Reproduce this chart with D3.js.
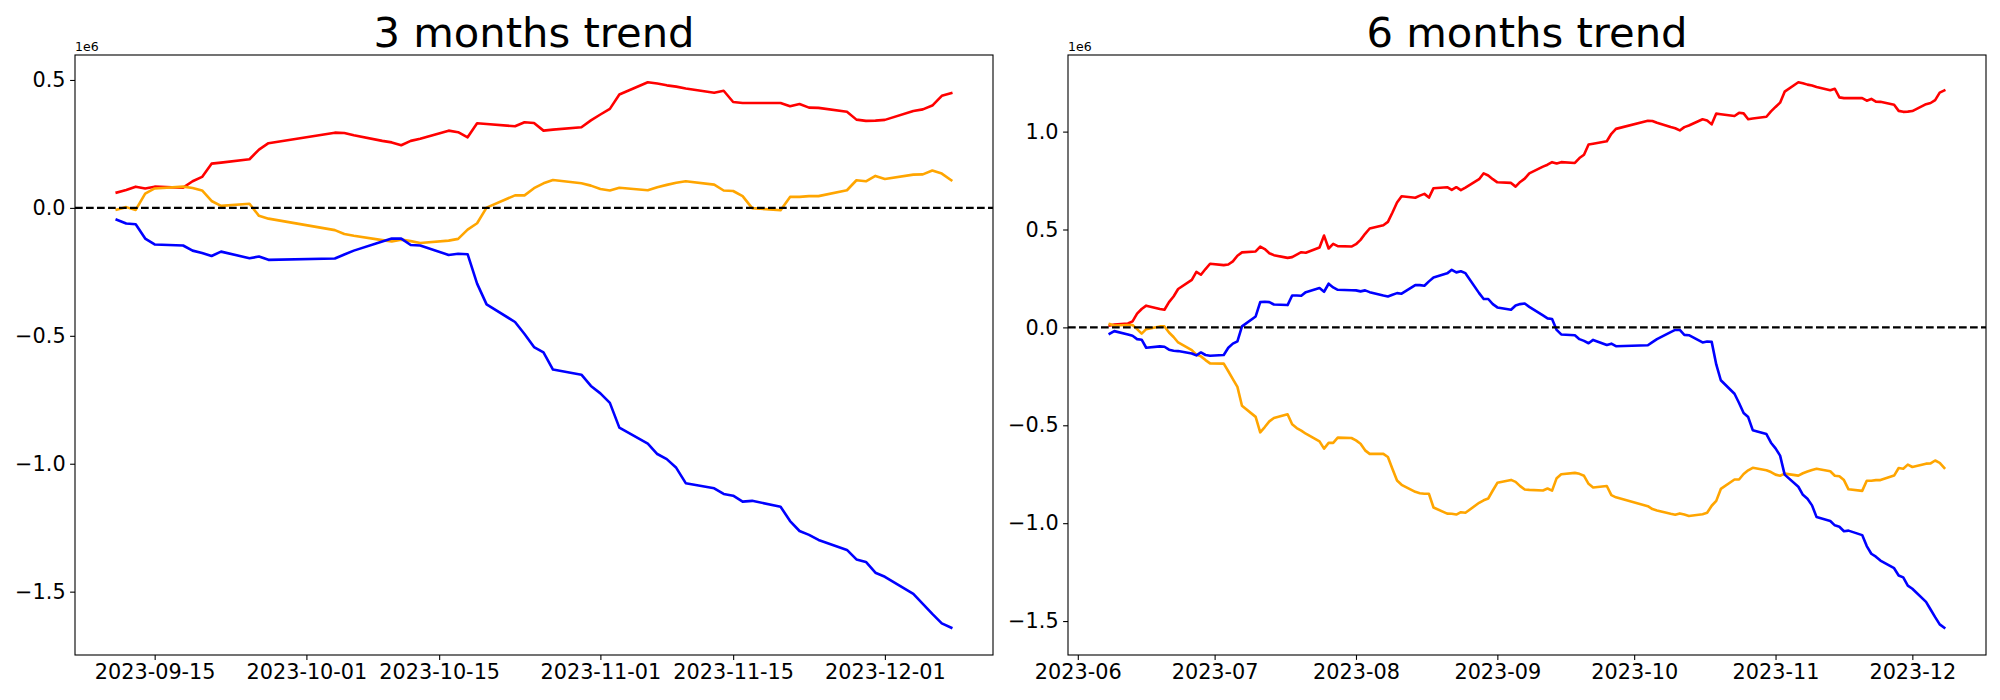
<!DOCTYPE html>
<html>
<head>
<meta charset="utf-8">
<script src="https://cdn.jsdelivr.net/npm/d3@7"></script>
<style>
    body { margin: 0; background: #ffffff; }
    text { font-family: "DejaVu Sans", sans-serif; }
</style>
</head>
<body>
<svg id="chart" width="2000" height="700"></svg>
<script>
// ---- 3 months data (values in 1e6) ----
var dates3 = [
    "2023-09-11", "2023-09-12", "2023-09-13", "2023-09-14", "2023-09-15",
    "2023-09-18", "2023-09-19", "2023-09-20", "2023-09-21", "2023-09-22",
    "2023-09-25", "2023-09-26", "2023-09-27",
    "2023-10-04", "2023-10-05", "2023-10-06",
    "2023-10-09", "2023-10-10", "2023-10-11", "2023-10-12", "2023-10-13",
    "2023-10-16", "2023-10-17", "2023-10-18", "2023-10-19", "2023-10-20",
    "2023-10-23", "2023-10-24", "2023-10-25", "2023-10-26", "2023-10-27",
    "2023-10-30", "2023-10-31", "2023-11-01", "2023-11-02", "2023-11-03",
    "2023-11-06", "2023-11-07", "2023-11-08", "2023-11-09", "2023-11-10",
    "2023-11-13", "2023-11-14", "2023-11-15", "2023-11-16", "2023-11-17",
    "2023-11-20", "2023-11-21", "2023-11-22", "2023-11-23", "2023-11-24",
    "2023-11-27", "2023-11-28", "2023-11-29", "2023-11-30", "2023-12-01",
    "2023-12-04", "2023-12-05", "2023-12-06", "2023-12-07", "2023-12-08"
];
var red3 = [
    0.060, 0.070, 0.083, 0.076, 0.083,
    0.079, 0.104, 0.121, 0.173, 0.177,
    0.190, 0.228, 0.253,
    0.294, 0.293, 0.284,
    0.262, 0.256, 0.245, 0.262, 0.270,
    0.302, 0.296, 0.276, 0.331, 0.328,
    0.319, 0.335, 0.332, 0.302, 0.306,
    0.315, 0.342, 0.365, 0.387, 0.443,
    0.491, 0.486, 0.479, 0.474, 0.467,
    0.450, 0.458, 0.414, 0.410, 0.410,
    0.410, 0.397, 0.406, 0.392, 0.391,
    0.376, 0.345, 0.340, 0.341, 0.344,
    0.379, 0.385, 0.400, 0.438, 0.449
];
var orange3 = [
    -0.007, 0.003, -0.008, 0.056, 0.076,
    0.083, 0.078, 0.068, 0.027, 0.008,
    0.016, -0.031, -0.042,
    -0.087, -0.102, -0.109,
    -0.126, -0.131, -0.124, -0.130, -0.137,
    -0.128, -0.121, -0.085, -0.060, 0.001,
    0.049, 0.049, 0.077, 0.096, 0.109,
    0.096, 0.087, 0.074, 0.068, 0.079,
    0.069, 0.081, 0.090, 0.098, 0.104,
    0.091, 0.068, 0.066, 0.046, -0.001,
    -0.009, 0.043, 0.043, 0.046, 0.046,
    0.069, 0.108, 0.104, 0.125, 0.113,
    0.130, 0.131, 0.146, 0.134, 0.108
];
var blue3 = [
    -0.046, -0.061, -0.064, -0.120, -0.143,
    -0.147, -0.167, -0.176, -0.188, -0.171,
    -0.197, -0.190, -0.203,
    -0.198, -0.182, -0.167,
    -0.131, -0.120, -0.120, -0.145, -0.147,
    -0.184, -0.179, -0.181, -0.296, -0.377,
    -0.446, -0.493, -0.544, -0.565, -0.632,
    -0.652, -0.696, -0.725, -0.762, -0.859,
    -0.921, -0.962, -0.982, -1.016, -1.076,
    -1.096, -1.118, -1.125, -1.148, -1.145,
    -1.168, -1.224, -1.263, -1.278, -1.298,
    -1.337, -1.374, -1.384, -1.426, -1.442,
    -1.509, -1.548, -1.587, -1.624, -1.641
];

// ---- 6 months data (values in 1e6) ----
var dates6 = [
    "2023-06-08", "2023-06-09",
    "2023-06-12", "2023-06-13", "2023-06-14", "2023-06-15", "2023-06-16",
    "2023-06-19", "2023-06-20", "2023-06-21", "2023-06-22", "2023-06-23",
    "2023-06-26", "2023-06-27", "2023-06-28", "2023-06-29", "2023-06-30",
    "2023-07-03", "2023-07-04", "2023-07-05", "2023-07-06", "2023-07-07",
    "2023-07-10", "2023-07-11", "2023-07-12", "2023-07-13", "2023-07-14",
    "2023-07-17", "2023-07-18", "2023-07-19", "2023-07-20", "2023-07-21",
    "2023-07-24", "2023-07-25", "2023-07-26", "2023-07-27", "2023-07-28",
    "2023-07-31",
    "2023-08-01", "2023-08-02", "2023-08-03", "2023-08-04",
    "2023-08-07", "2023-08-08", "2023-08-09", "2023-08-10", "2023-08-11",
    "2023-08-14", "2023-08-15", "2023-08-16", "2023-08-17", "2023-08-18",
    "2023-08-21", "2023-08-22", "2023-08-23", "2023-08-24", "2023-08-25",
    "2023-08-28", "2023-08-29", "2023-08-30", "2023-08-31",
    "2023-09-01",
    "2023-09-04", "2023-09-05", "2023-09-06", "2023-09-07", "2023-09-08",
    "2023-09-11", "2023-09-12", "2023-09-13", "2023-09-14", "2023-09-15",
    "2023-09-18", "2023-09-19", "2023-09-20", "2023-09-21", "2023-09-22",
    "2023-09-25", "2023-09-26", "2023-09-27",
    "2023-10-04", "2023-10-05", "2023-10-06",
    "2023-10-09", "2023-10-10", "2023-10-11", "2023-10-12", "2023-10-13",
    "2023-10-16", "2023-10-17", "2023-10-18", "2023-10-19", "2023-10-20",
    "2023-10-23", "2023-10-24", "2023-10-25", "2023-10-26", "2023-10-27",
    "2023-10-30", "2023-10-31", "2023-11-01", "2023-11-02", "2023-11-03",
    "2023-11-06", "2023-11-07", "2023-11-08", "2023-11-09", "2023-11-10",
    "2023-11-13", "2023-11-14", "2023-11-15", "2023-11-16", "2023-11-17",
    "2023-11-20", "2023-11-21", "2023-11-22", "2023-11-23", "2023-11-24",
    "2023-11-27", "2023-11-28", "2023-11-29", "2023-11-30", "2023-12-01",
    "2023-12-04", "2023-12-05", "2023-12-06", "2023-12-07", "2023-12-08"
];
var red6 = [
    0.010, 0.014,
    0.020, 0.031, 0.070, 0.094, 0.111,
    0.094, 0.090, 0.129, 0.158, 0.196,
    0.243, 0.284, 0.269, 0.298, 0.325,
    0.318, 0.321, 0.337, 0.366, 0.383,
    0.388, 0.413, 0.400, 0.379, 0.369,
    0.355, 0.359, 0.372, 0.384, 0.381,
    0.408, 0.469, 0.403, 0.427, 0.415,
    0.413,
    0.425, 0.447, 0.478, 0.505,
    0.522, 0.539, 0.587, 0.638, 0.670,
    0.662, 0.673, 0.682, 0.663, 0.711,
    0.716, 0.702, 0.716, 0.701, 0.714,
    0.757, 0.787, 0.776, 0.757,
    0.741,
    0.738, 0.719, 0.743, 0.760, 0.787,
    0.821, 0.831, 0.844, 0.837, 0.844,
    0.840, 0.865, 0.882, 0.934, 0.938,
    0.951, 0.989, 1.014,
    1.055, 1.054, 1.045,
    1.023, 1.017, 1.006, 1.023, 1.031,
    1.063, 1.057, 1.037, 1.092, 1.089,
    1.080, 1.096, 1.093, 1.063, 1.067,
    1.076, 1.103, 1.126, 1.148, 1.204,
    1.252, 1.247, 1.240, 1.235, 1.228,
    1.211, 1.219, 1.175, 1.171, 1.171,
    1.171, 1.158, 1.167, 1.153, 1.152,
    1.137, 1.106, 1.101, 1.102, 1.105,
    1.140, 1.146, 1.161, 1.199, 1.210
];
var orange6 = [
    0.017, 0.010,
    0.012, 0.012, -0.009, -0.032, -0.009,
    0.005, 0.005, -0.026, -0.049, -0.077,
    -0.116, -0.139, -0.148, -0.167, -0.184,
    -0.185, -0.224, -0.264, -0.304, -0.400,
    -0.457, -0.536, -0.509, -0.480, -0.463,
    -0.444, -0.495, -0.514, -0.527, -0.543,
    -0.582, -0.619, -0.590, -0.590, -0.563,
    -0.565,
    -0.577, -0.594, -0.628, -0.646,
    -0.646, -0.662, -0.723, -0.782, -0.804,
    -0.840, -0.847, -0.850, -0.850, -0.920,
    -0.951, -0.952, -0.956, -0.944, -0.947,
    -0.896, -0.883, -0.874, -0.833,
    -0.794,
    -0.779, -0.789, -0.811, -0.828, -0.830,
    -0.833, -0.823, -0.834, -0.770, -0.750,
    -0.743, -0.748, -0.758, -0.799, -0.818,
    -0.810, -0.857, -0.868,
    -0.913, -0.928, -0.935,
    -0.952, -0.957, -0.950, -0.956, -0.963,
    -0.954, -0.947, -0.911, -0.886, -0.825,
    -0.777, -0.777, -0.749, -0.730, -0.717,
    -0.730, -0.739, -0.752, -0.758, -0.747,
    -0.757, -0.745, -0.736, -0.728, -0.722,
    -0.735, -0.758, -0.760, -0.780, -0.827,
    -0.835, -0.783, -0.783, -0.780, -0.780,
    -0.757, -0.718, -0.722, -0.701, -0.713,
    -0.696, -0.695, -0.680, -0.692, -0.718
];
var blue6 = [
    -0.032, -0.019,
    -0.036, -0.043, -0.060, -0.063, -0.104,
    -0.097, -0.099, -0.114, -0.119, -0.121,
    -0.133, -0.143, -0.128, -0.141, -0.145,
    -0.141, -0.104, -0.083, -0.071, 0.005,
    0.056, 0.129, 0.131, 0.129, 0.117,
    0.114, 0.163, 0.163, 0.162, 0.180,
    0.201, 0.182, 0.223, 0.204, 0.192,
    0.190,
    0.189, 0.184, 0.189, 0.180,
    0.163, 0.158, 0.167, 0.175, 0.172,
    0.216, 0.216, 0.213, 0.235, 0.255,
    0.276, 0.294, 0.281, 0.287, 0.277,
    0.175, 0.145, 0.145, 0.119,
    0.102,
    0.090, 0.112, 0.119, 0.122, 0.105,
    0.061, 0.046, 0.043, -0.013, -0.036,
    -0.040, -0.060, -0.069, -0.081, -0.064,
    -0.090, -0.083, -0.096,
    -0.091, -0.075, -0.060,
    -0.024, -0.013, -0.013, -0.038, -0.040,
    -0.077, -0.072, -0.074, -0.189, -0.270,
    -0.339, -0.386, -0.437, -0.458, -0.525,
    -0.545, -0.589, -0.618, -0.655, -0.752,
    -0.814, -0.855, -0.875, -0.909, -0.969,
    -0.989, -1.011, -1.018, -1.041, -1.038,
    -1.061, -1.117, -1.156, -1.171, -1.191,
    -1.230, -1.267, -1.277, -1.319, -1.335,
    -1.402, -1.441, -1.480, -1.517, -1.534
];

// ticks
var xTicks3 = ["2023-09-15", "2023-10-01", "2023-10-15", "2023-11-01", "2023-11-15", "2023-12-01"];
var xTicks6 = ["2023-06", "2023-07", "2023-08", "2023-09", "2023-10", "2023-11", "2023-12"];
var yTicks3 = [0.5, 0.0, -0.5, -1.0, -1.5];
var yTicks6 = [1.0, 0.5, 0.0, -0.5, -1.0, -1.5];

var svg = d3.select("#chart");
var parseDay = d3.timeParse("%Y-%m-%d");
var parseMonth = d3.timeParse("%Y-%m");
var formatY = d3.format(".1f");

function drawPanel(p) {
    var dates = p.dates.map(parseDay);

    // matplotlib style 5% margins
    var t0 = dates[0].getTime(), t1 = dates[dates.length - 1].getTime();
    var tPad = (t1 - t0) * 0.05;
    var x = d3.scaleTime()
        .domain([new Date(t0 - tPad), new Date(t1 + tPad)])
        .range([p.left, p.right]);

    var allVals = [];
    p.series.forEach(function (s) { allVals = allVals.concat(s.values); });
    var ext = d3.extent(allVals);
    var vPad = (ext[1] - ext[0]) * 0.05;
    var y = d3.scaleLinear()
        .domain([ext[0] - vPad, ext[1] + vPad])
        .range([p.bottom, p.top]);

    var g = svg.append("g");

    // lines
    p.series.forEach(function (s) {
        var pts = dates.map(function (d, i) { return { date: d, value: s.values[i] }; });
        var line = d3.line()
            .x(function (d) { return x(d.date); })
            .y(function (d) { return y(d.value); });
        g.append("path")
            .datum(pts)
            .attr("d", line)
            .attr("fill", "none")
            .attr("stroke", s.color)
            .attr("stroke-width", 2.6)
            .attr("stroke-linejoin", "round")
            .attr("stroke-linecap", "square");
    });

    // zero line
    g.append("line")
        .attr("x1", p.left)
        .attr("x2", p.right)
        .attr("y1", y(0))
        .attr("y2", y(0))
        .attr("stroke", "#000")
        .attr("stroke-width", 2.1)
        .attr("stroke-dasharray", "7.7,3.3");

    // axes
    var xAxis = d3.axisBottom(x)
        .tickValues(p.xTicks.map(p.xParse))
        .tickFormat(function (d, i) { return p.xTicks[i]; })
        .tickSizeInner(4.9)
        .tickSizeOuter(0)
        .tickPadding(4.5);
    var gx = g.append("g")
        .attr("transform", "translate(0," + p.bottom + ")")
        .call(xAxis);

    var yAxis = d3.axisLeft(y)
        .tickValues(p.yTicks)
        .tickFormat(formatY)
        .tickSizeInner(4.9)
        .tickSizeOuter(0)
        .tickPadding(4.5);
    var gy = g.append("g")
        .attr("transform", "translate(" + p.left + ",0)")
        .call(yAxis);

    [gx, gy].forEach(function (ax) {
        ax.select(".domain").remove();
        ax.selectAll(".tick line").attr("stroke", "#000").attr("stroke-width", 1.1);
        ax.selectAll(".tick text")
            .attr("fill", "#000")
            .style("font-family", "'DejaVu Sans', sans-serif")
            .style("font-size", "20.8px");
    });

    // frame
    g.append("rect")
        .attr("x", p.left)
        .attr("y", p.top)
        .attr("width", p.right - p.left)
        .attr("height", p.bottom - p.top)
        .attr("fill", "none")
        .attr("stroke", "#000")
        .attr("stroke-width", 1.1);

    // title
    g.append("text")
        .attr("x", (p.left + p.right) / 2)
        .attr("y", 46.5)
        .attr("text-anchor", "middle")
        .style("font-size", "41.7px")
        .text(p.title);

    // offset text
    g.append("text")
        .attr("x", p.left)
        .attr("y", 50.5)
        .style("font-size", "12.5px")
        .text("1e6");
}

drawPanel({
    title: "3 months trend",
    left: 75, right: 993, top: 55, bottom: 655,
    dates: dates3,
    series: [
        { values: red3, color: "red" },
        { values: orange3, color: "orange" },
        { values: blue3, color: "blue" }
    ],
    xTicks: xTicks3, xParse: parseDay,
    yTicks: yTicks3
});

drawPanel({
    title: "6 months trend",
    left: 1068, right: 1986, top: 55, bottom: 655,
    dates: dates6,
    series: [
        { values: red6, color: "red" },
        { values: orange6, color: "orange" },
        { values: blue6, color: "blue" }
    ],
    xTicks: xTicks6, xParse: parseMonth,
    yTicks: yTicks6
});
</script>
</body>
</html>
